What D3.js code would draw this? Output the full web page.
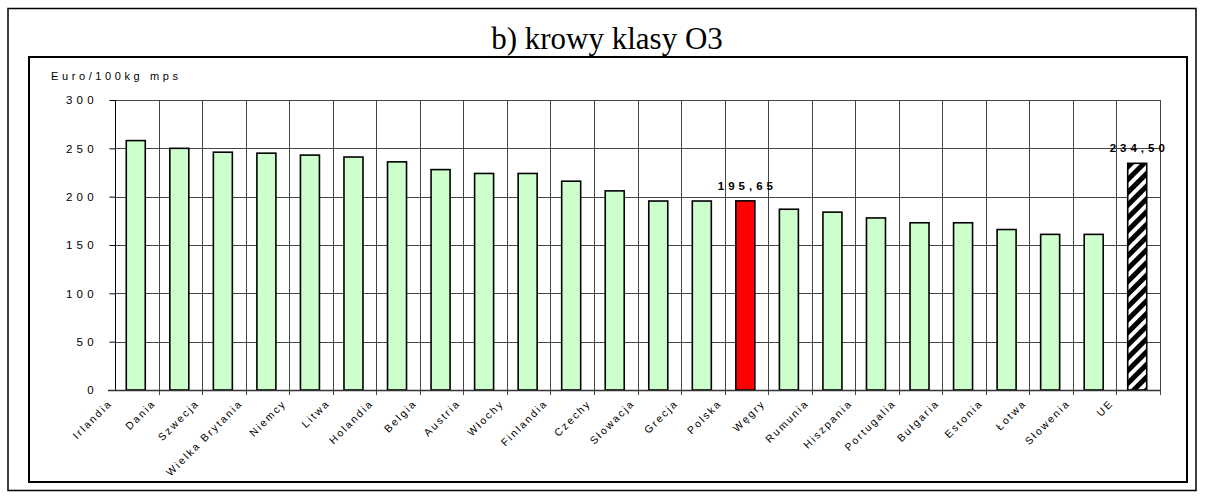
<!DOCTYPE html>
<html>
<head>
<meta charset="utf-8">
<script src="https://cdn.jsdelivr.net/npm/d3@7"></script>
<style>
  body { margin: 0; background: #fff; }
  svg { display: block; }
  text { font-family: "Liberation Sans", Arial, sans-serif; fill: #000; }
</style>
</head>
<body>
<svg width="1207" height="498"></svg>
<script>
// data
const countries = ["Irlandia", "Dania", "Szwecja", "Wielka Brytania", "Niemcy", "Litwa", "Holandia",
    "Belgia", "Austria", "Włochy", "Finlandia", "Czechy", "Słowacja", "Grecja", "Polska", "Węgry",
    "Rumunia", "Hiszpania", "Portugalia", "Bułgaria", "Estonia", "Łotwa", "Słowenia", "UE"];
const prices = [258, 250, 246, 245, 243, 241, 236, 228, 224, 224, 216, 206, 195.5, 195.5, 195.65,
    187, 184, 178, 173, 173, 166, 161, 161, 234.5];
const yTicks = [0, 50, 100, 150, 200, 250, 300];
const labelled = { "Polska": "195,65", "UE": "234,50" };

const svg = d3.select("svg");

// pattern for UE bar
const defs = svg.append("defs");
const pat = defs.append("pattern")
    .attr("id", "stripes")
    .attr("patternUnits", "userSpaceOnUse")
    .attr("width", 9).attr("height", 9)
    .attr("patternTransform", "rotate(45)");
pat.append("rect").attr("width", 9).attr("height", 9).attr("fill", "#000");
pat.append("rect").attr("width", 4).attr("height", 9).attr("fill", "#fff");

// frames
svg.append("rect").attr("x", 8).attr("y", 8.5).attr("width", 1188).attr("height", 482)
    .attr("fill", "none").attr("stroke", "#000").attr("stroke-width", 1.5);
svg.append("rect").attr("x", 29).attr("y", 57).attr("width", 1158).attr("height", 425)
    .attr("fill", "none").attr("stroke", "#000").attr("stroke-width", 2);

svg.append("text")
    .attr("x", 607).attr("y", 49)
    .attr("text-anchor", "middle")
    .style("font-family", "'Liberation Serif', 'Times New Roman', serif")
    .style("font-size", "31px")
    .text("b) krowy klasy O3");

const x = d3.scaleBand().domain(countries).range([115, 1160]).padding(0);
const y = d3.scaleLinear().domain([0, 300]).range([390, 100]);
const bw = 19;

// grid
const grid = svg.append("g").attr("shape-rendering", "crispEdges");
grid.selectAll(".h").data(yTicks).enter().append("line")
    .attr("x1", 115).attr("x2", 1160)
    .attr("y1", d => Math.round(y(d)) + 0.5).attr("y2", d => Math.round(y(d)) + 0.5)
    .attr("stroke", "#444");
const bounds = countries.map(c => x(c)).concat([x.range()[1]]);
grid.selectAll(".v").data(bounds.slice(1)).enter().append("line")
    .attr("x1", d => Math.round(d) + 0.5).attr("x2", d => Math.round(d) + 0.5)
    .attr("y1", 100).attr("y2", 395)
    .attr("stroke", "#444");

// bars
svg.append("g").selectAll("rect").data(countries).enter().append("rect")
    .attr("x", d => x(d) + x.bandwidth() / 2 - bw / 2 - 1)
    .attr("y", (d, i) => y(prices[i]))
    .attr("width", bw)
    .attr("height", (d, i) => y(0) - y(prices[i]))
    .attr("fill", d => d === "Polska" ? "#ff0000" : d === "UE" ? "url(#stripes)" : "#ccffcc")
    .attr("stroke", "#000")
    .attr("stroke-width", 1.6);

// y axis
const yAxis = d3.axisLeft(y).tickValues(yTicks).tickSize(6).tickPadding(13)
    .tickFormat(d => d);
const ya = svg.append("g").attr("transform", "translate(115.5,0)").call(yAxis);
ya.select(".domain").attr("stroke", "#000").attr("d", "M0,100V390");
ya.selectAll(".tick line").attr("stroke", "#000");
ya.selectAll(".tick text")
    .style("font-size", "11.5px")
    .style("letter-spacing", "4.3px")
    .attr("dx", 1.5);

// x axis line
svg.append("line").attr("x1", 108).attr("x2", 1160)
    .attr("y1", 390.5).attr("y2", 390.5).attr("stroke", "#333").attr("stroke-width", 1.5);

// category labels
svg.append("g").selectAll("text").data(countries).enter().append("text")
    .attr("transform", d => `translate(${x(d) + x.bandwidth() / 2 - 24},404) rotate(-45)`)
    .attr("text-anchor", "end")
    .style("font-size", "10.5px")
    .style("letter-spacing", "2px")
    .text(d => d);

// value labels
svg.append("g").selectAll("text").data(countries.filter(c => labelled[c])).enter().append("text")
    .attr("x", d => x(d) + x.bandwidth() / 2 - 1)
    .attr("y", d => y(prices[countries.indexOf(d)]) - 11)
    .attr("dx", 2)
    .attr("text-anchor", "middle")
    .style("font-size", "11.5px")
    .style("font-weight", "bold")
    .style("letter-spacing", "4px")
    .text(d => labelled[d]);

// unit label
svg.append("text").attr("x", 51).attr("y", 80)
    .style("font-size", "11px")
    .style("letter-spacing", "3.6px")
    .text("Euro/100kg mps");
</script>
</body>
</html>
